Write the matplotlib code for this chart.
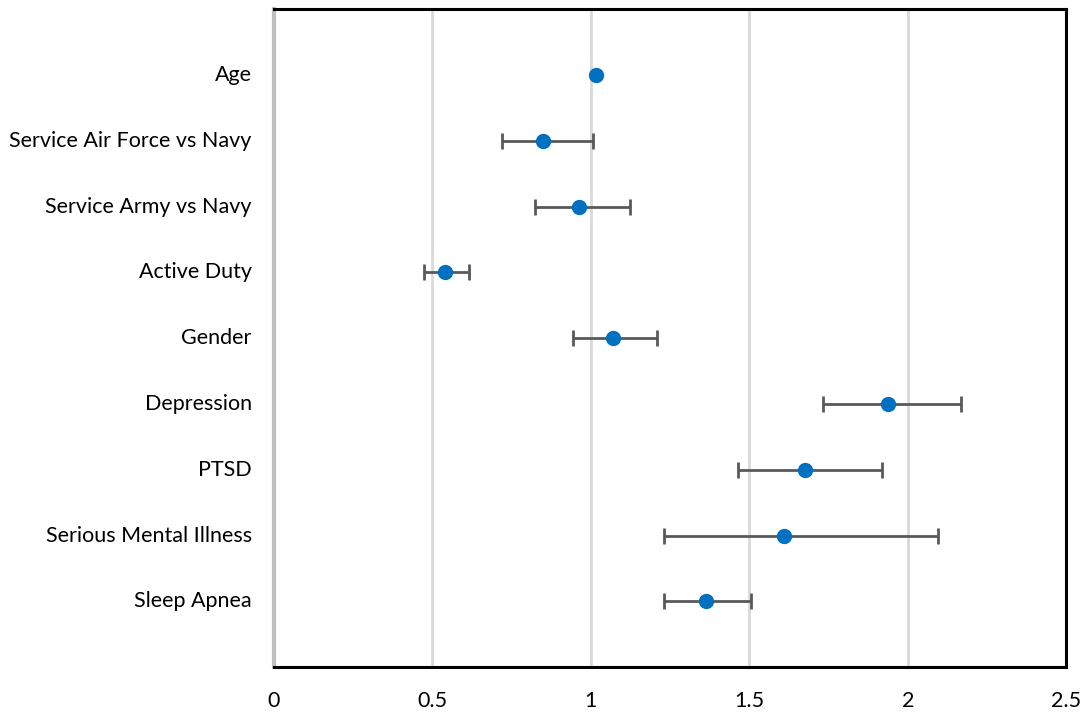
import matplotlib.pyplot as plt

labels = ["Age", "Service Air Force vs Navy", "Service Army vs Navy", "Active Duty",
          "Gender", "Depression", "PTSD", "Serious Mental Illness", "Sleep Apnea"]
odds = [1.016, 0.848, 0.962, 0.541, 1.070, 1.937, 1.677, 1.608, 1.364]
lower = [1.016, 0.718, 0.823, 0.472, 0.943, 1.731, 1.465, 1.231, 1.231]
upper = [1.016, 1.006, 1.123, 0.617, 1.209, 2.168, 1.918, 2.095, 1.506]
ticks = [0, 0.5, 1, 1.5, 2, 2.5]

plt.rcParams['font.family'] = ['Lato', 'DejaVu Sans']

fig = plt.figure(figsize=(10.87, 7.15), dpi=100)
ax = fig.add_axes([0.252, 0.067, 0.729, 0.920])

ys = list(range(len(labels), 0, -1))
# only rows with an actual interval get whiskers
rows = [i for i in range(len(odds)) if upper[i] > lower[i]]
ax.errorbar([odds[i] for i in rows], [ys[i] for i in rows],
            xerr=[[odds[i] - lower[i] for i in rows], [upper[i] - odds[i] for i in rows]],
            fmt='none', ecolor='#595959', elinewidth=2, capsize=6, capthick=2, zorder=2)
ax.plot(odds, ys, 'o', color='#0070C0', markersize=10, zorder=3)

ax.set_xlim(0, 2.5)
ax.set_ylim(0, 10)
ax.set_xticks(ticks)
ax.set_xticklabels([str(t) for t in ticks], fontsize=15.5)
ax.set_yticks([])
for y, lab in zip(ys, labels):
    ax.text(-0.07, y, lab, ha='right', va='center', fontsize=15.5)
ax.grid(axis='x', color='#d9d9d9', linewidth=2)
ax.set_axisbelow(True)
ax.tick_params(axis='x', length=0, pad=17)

for side in ['top', 'right', 'bottom']:
    ax.spines[side].set_linewidth(2.2)
    ax.spines[side].set_color('black')
ax.spines['left'].set_color('#bfbfbf')
ax.spines['left'].set_linewidth(3)

fig.savefig('out.png', dpi=100)
